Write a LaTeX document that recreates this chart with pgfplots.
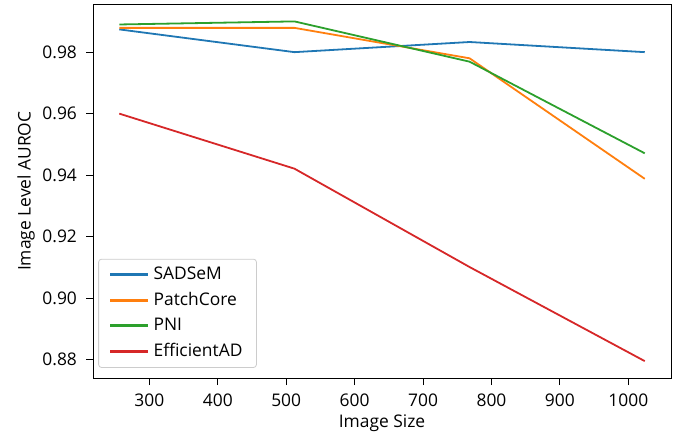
\documentclass[border=0pt]{standalone}
\usepackage{fontspec}
\setmainfont{Open Sans}
\usepackage{pgfplots}
\pgfplotsset{compat=1.18}
\definecolor{cBlue}{HTML}{1F77B4}
\definecolor{cOrange}{HTML}{FF7F0E}
\definecolor{cGreen}{HTML}{2CA02C}
\definecolor{cRed}{HTML}{D62728}
\begin{document}
\begin{tikzpicture}
  \begin{axis}[
    scale only axis,
    width=289pt, height=186.75pt,
    xmin=217.6, xmax=1062.4, ymin=0.8740, ymax=0.9955,
    xtick={300,400,...,1000},
    ytick={0.88,0.90,0.92,0.94,0.96,0.98},
    xticklabel style={/pgf/number format/set thousands separator={}},
    yticklabel style={/pgf/number format/fixed, /pgf/number format/fixed zerofill,
      /pgf/number format/precision=2},
    /pgf/number format/assume math mode=true,
    tick align=outside, tick pos=left,
    major tick length=3.5pt,
    tick style={black, line width=0.4pt},
    axis line style={black, line width=0.5pt},
    tick label style={font=\fontsize{8.7}{10.4}\selectfont},
    label style={font=\fontsize{8.7}{10.4}\selectfont},
    xticklabel style={yshift=-1pt},
    yticklabel style={xshift=-1pt},
    xlabel={Image Size}, ylabel={Image Level AUROC},
    xlabel style={yshift=3pt},
    ylabel style={yshift=-3pt},
    legend style={font=\fontsize{8.7}{10.4}\selectfont, at={(0.009,0.027)}, anchor=south west,
      draw=black!20, rounded corners=1.5pt, inner xsep=5pt, inner ysep=2pt,
      row sep=0.8pt},
    legend cell align=left,
    legend image code/.code={\draw[#1, line width=1.5pt] (1pt,0pt) -- (20pt,0pt);},
  ]
    \addplot[color=cBlue, line width=0.9pt] coordinates {
      (256,0.9874) (512,0.9800) (768,0.9833) (1024,0.9800)
    };
    \addlegendentry{SADSeM}
    \addplot[color=cOrange, line width=0.9pt] coordinates {
      (256,0.9879) (512,0.9879) (768,0.9780) (1024,0.9388)
    };
    \addlegendentry{PatchCore}
    \addplot[color=cGreen, line width=0.9pt] coordinates {
      (256,0.9890) (512,0.9900) (768,0.9769) (1024,0.9471)
    };
    \addlegendentry{PNI}
    \addplot[color=cRed, line width=0.9pt] coordinates {
      (256,0.9600) (512,0.9421) (768,0.9101) (1024,0.8795)
    };
    \addlegendentry{EfficientAD}
    \coordinate (bl) at (rel axis cs:0,0);
    \coordinate (tr) at (rel axis cs:1,1);
  \end{axis}
  \pgfresetboundingbox
  \path ([shift={(-46.5pt,-30.75pt)}]bl) rectangle ([shift={(7.5pt,2.25pt)}]tr);
\end{tikzpicture}
\end{document}
